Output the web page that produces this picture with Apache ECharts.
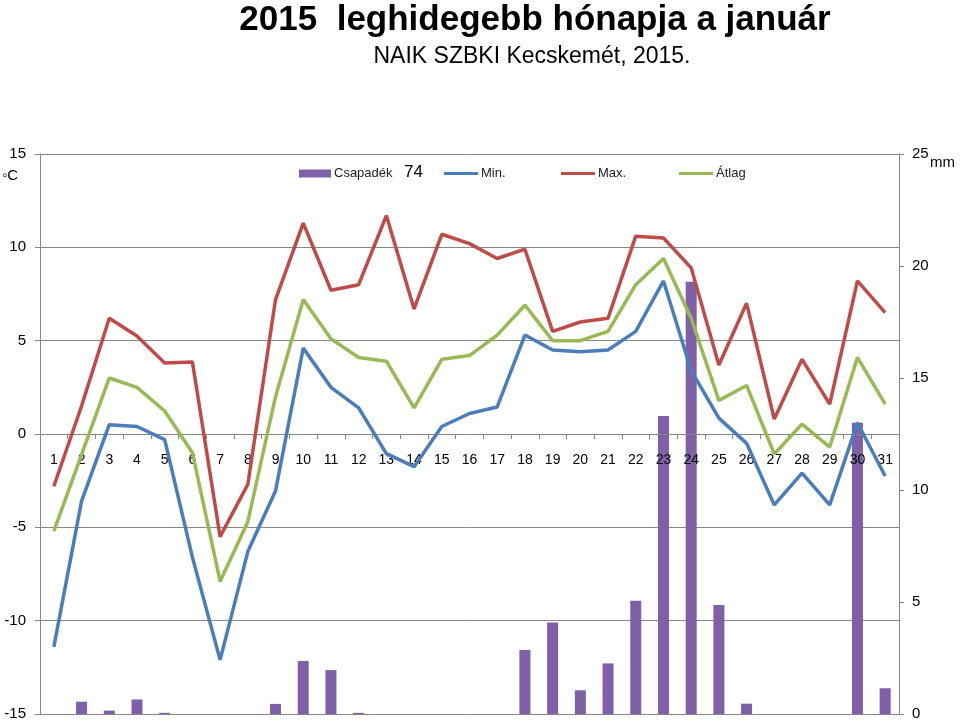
<!DOCTYPE html>
<html>
<head>
<meta charset="utf-8">
<script src="https://cdn.jsdelivr.net/npm/echarts@6/dist/echarts.min.js"></script>
<style>
html,body{margin:0;padding:0;background:#fff;}
#chart{width:960px;height:722px;}
</style>
</head>
<body>
<div id="chart"></div>
<script>
const days = ['1','2','3','4','5','6','7','8','9','10','11','12','13','14','15','16','17','18','19','20','21','22','23','24','25','26','27','28','29','30','31'];
const csapadek = [0, 0.55, 0.15, 0.65, 0.05, 0, 0, 0, 0.45, 2.37, 1.96, 0.05, 0, 0, 0, 0, 0, 2.86, 4.08, 1.06, 2.26, 5.06, 13.3, 19.3, 4.87, 0.46, 0, 0, 0, 13.0, 1.15];
const minT = [-11.4, -3.6, 0.5, 0.4, -0.3, -6.6, -12.1, -6.3, -3.05, 4.6, 2.5, 1.4, -1.05, -1.75, 0.4, 1.1, 1.45, 5.3, 4.5, 4.4, 4.5, 5.5, 8.2, 3.4, 0.85, -0.5, -3.8, -2.1, -3.8, 0.6, -2.25];
const maxT = [-2.8, 1.5, 6.2, 5.25, 3.8, 3.86, -5.5, -2.7, 7.2, 11.3, 7.7, 8.0, 11.7, 6.7, 10.7, 10.2, 9.4, 9.9, 5.5, 6.0, 6.2, 10.6, 10.5, 8.9, 3.7, 7.0, 0.8, 4.0, 1.6, 8.2, 6.5];
const atlag = [-5.2, -1.1, 3.0, 2.5, 1.23, -1.0, -7.9, -4.7, 2.0, 7.2, 5.1, 4.1, 3.9, 1.4, 4.0, 4.2, 5.3, 6.9, 5.0, 5.0, 5.5, 8.0, 9.4, 6.2, 1.8, 2.6, -1.07, 0.53, -0.7, 4.1, 1.6];
const titleText = '2015  leghidegebb hónapja a január';
const subTitleText = 'NAIK SZBKI Kecskemét, 2015.';
const totalPrecip = '74';

const C_BAR = '#7F60A8', C_MIN = '#4A7EBB', C_MAX = '#BE4B48', C_AVG = '#98B954';
const GRID = '#878787';
const FONT = 'Liberation Sans';

const chart = echarts.init(document.getElementById('chart'));
const legendBase = {
  orient: 'horizontal', top: 167, itemGap: 0, padding: 0,
  textStyle: {fontFamily: FONT, fontSize: 13, color: '#222', padding: [0,0,0,-2]}
};
chart.setOption({
  animation: false,
  backgroundColor: '#fff',
  title: [
    {text: titleText, left: 530, top: -2, textAlign: 'center',
     textStyle: {fontFamily: FONT, fontSize: 35, fontWeight: 'bold', color: '#000'}},
    {text: subTitleText, left: 527, top: 40, textAlign: 'center',
     textStyle: {fontFamily: FONT, fontSize: 23, fontWeight: 'normal', color: '#000'}}
  ],
  legend: [
    Object.assign({}, legendBase, {left: 299, data: [{name: 'Csapadék', icon: 'rect'}], itemWidth: 32, itemHeight: 8}),
    Object.assign({}, legendBase, {left: 444, data: [{name: 'Min.', icon: 'rect'}], itemWidth: 34, itemHeight: 3}),
    Object.assign({}, legendBase, {left: 561, data: [{name: 'Max.', icon: 'rect'}], itemWidth: 34, itemHeight: 3}),
    Object.assign({}, legendBase, {left: 679, data: [{name: 'Átlag', icon: 'rect'}], itemWidth: 34, itemHeight: 3})
  ],
  graphic: [
    {type: 'text', left: 404, top: 164, style: {text: totalPrecip, font: '17px "Liberation Sans"', fill: '#000'}},
    {type: 'text', left: 2, top: 168, style: {text: '◦C', font: '15px "Liberation Sans"', fill: '#000'}},
    {type: 'text', left: 930, top: 155, style: {text: 'mm', font: '15px "Liberation Sans"', fill: '#000'}}
  ],
  grid: {left: 40, right: 61, top: 154, bottom: 8, containLabel: false, outerBoundsMode: 'none'},
  xAxis: {
    type: 'category', data: days, boundaryGap: true, position: 'bottom', offset: -280, z: 2,
    axisLine: {onZero: false, lineStyle: {color: GRID, width: 1}},
    axisTick: {show: true, inside: false, length: 5, lineStyle: {color: GRID}},
    axisLabel: {show: true, interval: 0, margin: 19, fontFamily: FONT, fontSize: 14, color: '#000'},
    splitLine: {show: false}
  },
  yAxis: [
    {type: 'value', min: -15, max: 15, interval: 5, position: 'left',
     axisLine: {show: true, onZero: false, lineStyle: {color: GRID}},
     axisTick: {show: true, length: 5, lineStyle: {color: GRID}},
     axisLabel: {margin: 14, fontFamily: FONT, fontSize: 15, color: '#000'},
     splitLine: {show: true, lineStyle: {color: GRID, width: 1}}},
    {type: 'value', min: 0, max: 25, interval: 5, position: 'right',
     axisLine: {show: true, onZero: false, lineStyle: {color: GRID}},
     axisTick: {show: true, length: 5, lineStyle: {color: GRID}},
     axisLabel: {margin: 13, fontFamily: FONT, fontSize: 15, color: '#000'},
     splitLine: {show: false}}
  ],
  series: [
    {name: 'Csapadék', type: 'bar', yAxisIndex: 1, data: csapadek, barWidth: 11,
     itemStyle: {color: C_BAR}, z: 1},
    {name: 'Min.', type: 'line', yAxisIndex: 0, data: minT, symbol: 'none',
     lineStyle: {color: C_MIN, width: 3.5}, itemStyle: {color: C_MIN}, z: 3},
    {name: 'Max.', type: 'line', yAxisIndex: 0, data: maxT, symbol: 'none',
     lineStyle: {color: C_MAX, width: 3.5}, itemStyle: {color: C_MAX}, z: 3},
    {name: 'Átlag', type: 'line', yAxisIndex: 0, data: atlag, symbol: 'none',
     lineStyle: {color: C_AVG, width: 3.5}, itemStyle: {color: C_AVG}, z: 3}
  ]
});
</script>
</body>
</html>
